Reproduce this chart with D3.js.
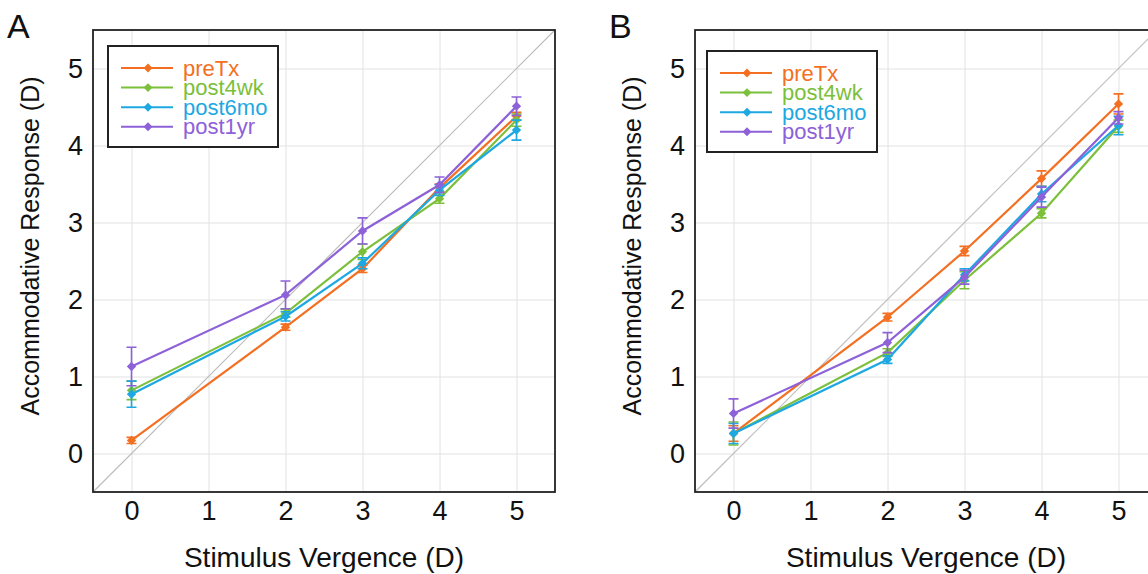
<!DOCTYPE html>
<html>
<head>
<meta charset="utf-8">
<script src="https://cdn.jsdelivr.net/npm/d3@7"></script>
<style>
  body { margin: 0; background: #fff; }
  svg { display: block; font-family: "Liberation Sans", Arial, sans-serif; }
</style>
</head>
<body>
<div id="chart"></div>
<script>
// stimulus levels (D)
const stimulus = [0, 2, 3, 4, 5];
const tickValues = [0, 1, 2, 3, 4, 5];
const seriesNames = ["preTx", "post4wk", "post6mo", "post1yr"];
const seriesColors = ["#f36f21", "#7cbf3a", "#1ea8e2", "#8d61d8"];

// panel A means / errors
const preTxA = [0.17, 1.64, 2.4, 3.45, 4.38];
const post4wkA = [0.82, 1.82, 2.62, 3.31, 4.33];
const post6moA = [0.77, 1.78, 2.47, 3.42, 4.2];
const post1yrA = [1.13, 2.06, 2.89, 3.49, 4.51];
const preTxErrA = [0.04, 0.04, 0.05, 0.05, 0.05];
const post4wkErrA = [0.12, 0.05, 0.1, 0.06, 0.08];
const post6moErrA = [0.17, 0.06, 0.07, 0.07, 0.13];
const post1yrErrA = [0.25, 0.18, 0.17, 0.1, 0.12];

// panel B means / errors
const preTxB = [0.26, 1.77, 2.63, 3.57, 4.54];
const post4wkB = [0.26, 1.31, 2.25, 3.12, 4.25];
const post6moB = [0.26, 1.22, 2.32, 3.37, 4.26];
const post1yrB = [0.52, 1.44, 2.29, 3.33, 4.36];
const preTxErrB = [0.1, 0.05, 0.06, 0.1, 0.13];
const post4wkErrB = [0.15, 0.05, 0.11, 0.06, 0.08];
const post6moErrB = [0.13, 0.05, 0.08, 0.1, 0.12];
const post1yrErrB = [0.19, 0.13, 0.09, 0.13, 0.08];

const width = 1148;
const height = 574;

const svg = d3
  .select("#chart")
  .append("svg")
  .attr("width", width)
  .attr("height", height);

function renderPanel(opts) {
  const { letter, left, top, means, errs, legendX, legendY, yTitleX } = opts;
  const innerW = 462;
  const innerH = 462;

  const x = d3.scaleLinear().domain([-0.5, 5.5]).range([0, innerW]);
  const y = d3.scaleLinear().domain([-0.5, 5.5]).range([innerH, 0]);

  const g = svg.append("g").attr("transform", `translate(${left}, ${top})`);

  // grid
  g.append("g")
    .attr("transform", `translate(0, ${innerH})`)
    .call(d3.axisBottom(x).tickValues(tickValues).tickSize(-innerH).tickFormat(""))
    .call((s) => s.select(".domain").remove())
    .selectAll("line")
    .attr("stroke", "#e2e2e2");

  g.append("g")
    .call(d3.axisLeft(y).tickValues(tickValues).tickSize(-innerW).tickFormat(""))
    .call((s) => s.select(".domain").remove())
    .selectAll("line")
    .attr("stroke", "#e2e2e2");

  // unity line
  g.append("line")
    .attr("x1", x(-0.5))
    .attr("y1", y(-0.5))
    .attr("x2", x(5.5))
    .attr("y2", y(5.5))
    .attr("stroke", "#bdbdbd")
    .attr("stroke-width", 1.2);

  // tick labels
  g.append("g")
    .attr("transform", `translate(0, ${innerH})`)
    .call(
      d3.axisBottom(x).tickValues(tickValues).tickFormat(d3.format("d")).tickSize(0).tickPadding(9)
    )
    .call((s) => s.select(".domain").remove())
    .selectAll("text")
    .attr("font-size", 27)
    .attr("font-family", "Liberation Sans, Arial, sans-serif")
    .attr("fill", "#111");

  g.append("g")
    .call(
      d3.axisLeft(y).tickValues(tickValues).tickFormat(d3.format("d")).tickSize(0).tickPadding(10)
    )
    .call((s) => s.select(".domain").remove())
    .selectAll("text")
    .attr("font-size", 27)
    .attr("font-family", "Liberation Sans, Arial, sans-serif")
    .attr("fill", "#111");

  const line = d3
    .line()
    .x((d) => x(d.x))
    .y((d) => y(d.y));

  const series = seriesNames.map((name, i) => ({
    name: name,
    color: seriesColors[i],
    values: stimulus.map((s, j) => ({ x: s, y: means[i][j], e: errs[i][j] })),
  }));

  const serie = g.append("g").selectAll("g").data(series).join("g");

  // error bars
  serie
    .selectAll(".err")
    .data((d) => d.values.map((v) => ({ ...v, color: d.color })))
    .join("path")
    .attr("class", "err")
    .attr("fill", "none")
    .attr("stroke", (d) => d.color)
    .attr("stroke-width", 1.6)
    .attr("d", (d) => {
      const cx = x(d.x);
      const y1 = y(d.y + d.e);
      const y2 = y(d.y - d.e);
      return `M${cx - 5},${y1}H${cx + 5}M${cx},${y1}V${y2}M${cx - 5},${y2}H${cx + 5}`;
    });

  serie
    .append("path")
    .attr("fill", "none")
    .attr("stroke", (d) => d.color)
    .attr("stroke-width", 2.2)
    .attr("d", (d) => line(d.values));

  serie
    .selectAll(".pt")
    .data((d) => d.values.map((v) => ({ ...v, color: d.color })))
    .join("path")
    .attr("class", "pt")
    .attr("d", d3.symbol(d3.symbolDiamond2, 55))
    .attr("transform", (d) => `translate(${x(d.x)}, ${y(d.y)})`)
    .attr("fill", (d) => d.color);

  // box
  g.append("rect")
    .attr("width", innerW)
    .attr("height", innerH)
    .attr("fill", "none")
    .attr("stroke", "#222")
    .attr("stroke-width", 1.8);

  // legend
  const legend = g.append("g").attr("transform", `translate(${legendX}, ${legendY})`);
  legend
    .append("rect")
    .attr("width", 170)
    .attr("height", 101)
    .attr("fill", "#fff")
    .attr("stroke", "#222")
    .attr("stroke-width", 2);

  const item = legend
    .selectAll(".item")
    .data(series)
    .join("g")
    .attr("class", "item")
    .attr("transform", (d, i) => `translate(0, ${22 + i * 19.6})`);

  item
    .append("line")
    .attr("x1", 13)
    .attr("x2", 65)
    .attr("stroke", (d) => d.color)
    .attr("stroke-width", 2);

  item
    .append("path")
    .attr("d", d3.symbol(d3.symbolDiamond2, 50))
    .attr("transform", "translate(40, 0)")
    .attr("fill", (d) => d.color);

  item
    .append("text")
    .attr("x", 75)
    .attr("y", 7.5)
    .attr("font-size", 22)
    .attr("fill", (d) => d.color)
    .text((d) => d.name);

  // axis titles
  svg
    .append("text")
    .text("Stimulus Vergence (D)")
    .attr("x", left + innerW / 2)
    .attr("y", 567)
    .attr("text-anchor", "middle")
    .attr("font-size", 28)
    .attr("fill", "#111");

  svg
    .append("text")
    .text("Accommodative Response (D)")
    .attr("transform", `translate(${yTitleX}, 246) rotate(-90)`)
    .attr("text-anchor", "middle")
    .attr("font-size", 25)
    .attr("fill", "#111");

  svg
    .append("text")
    .text(letter)
    .attr("x", left - 86)
    .attr("y", 38)
    .attr("font-size", 34)
    .attr("fill", "#111");
}

renderPanel({
  letter: "A",
  left: 93,
  top: 30,
  means: [preTxA, post4wkA, post6moA, post1yrA],
  errs: [preTxErrA, post4wkErrA, post6moErrA, post1yrErrA],
  legendX: 15,
  legendY: 16,
  yTitleX: 39,
});

renderPanel({
  letter: "B",
  left: 695,
  top: 30,
  means: [preTxB, post4wkB, post6moB, post1yrB],
  errs: [preTxErrB, post4wkErrB, post6moErrB, post1yrErrB],
  legendX: 12,
  legendY: 21,
  yTitleX: 641,
});
</script>
</body>
</html>
